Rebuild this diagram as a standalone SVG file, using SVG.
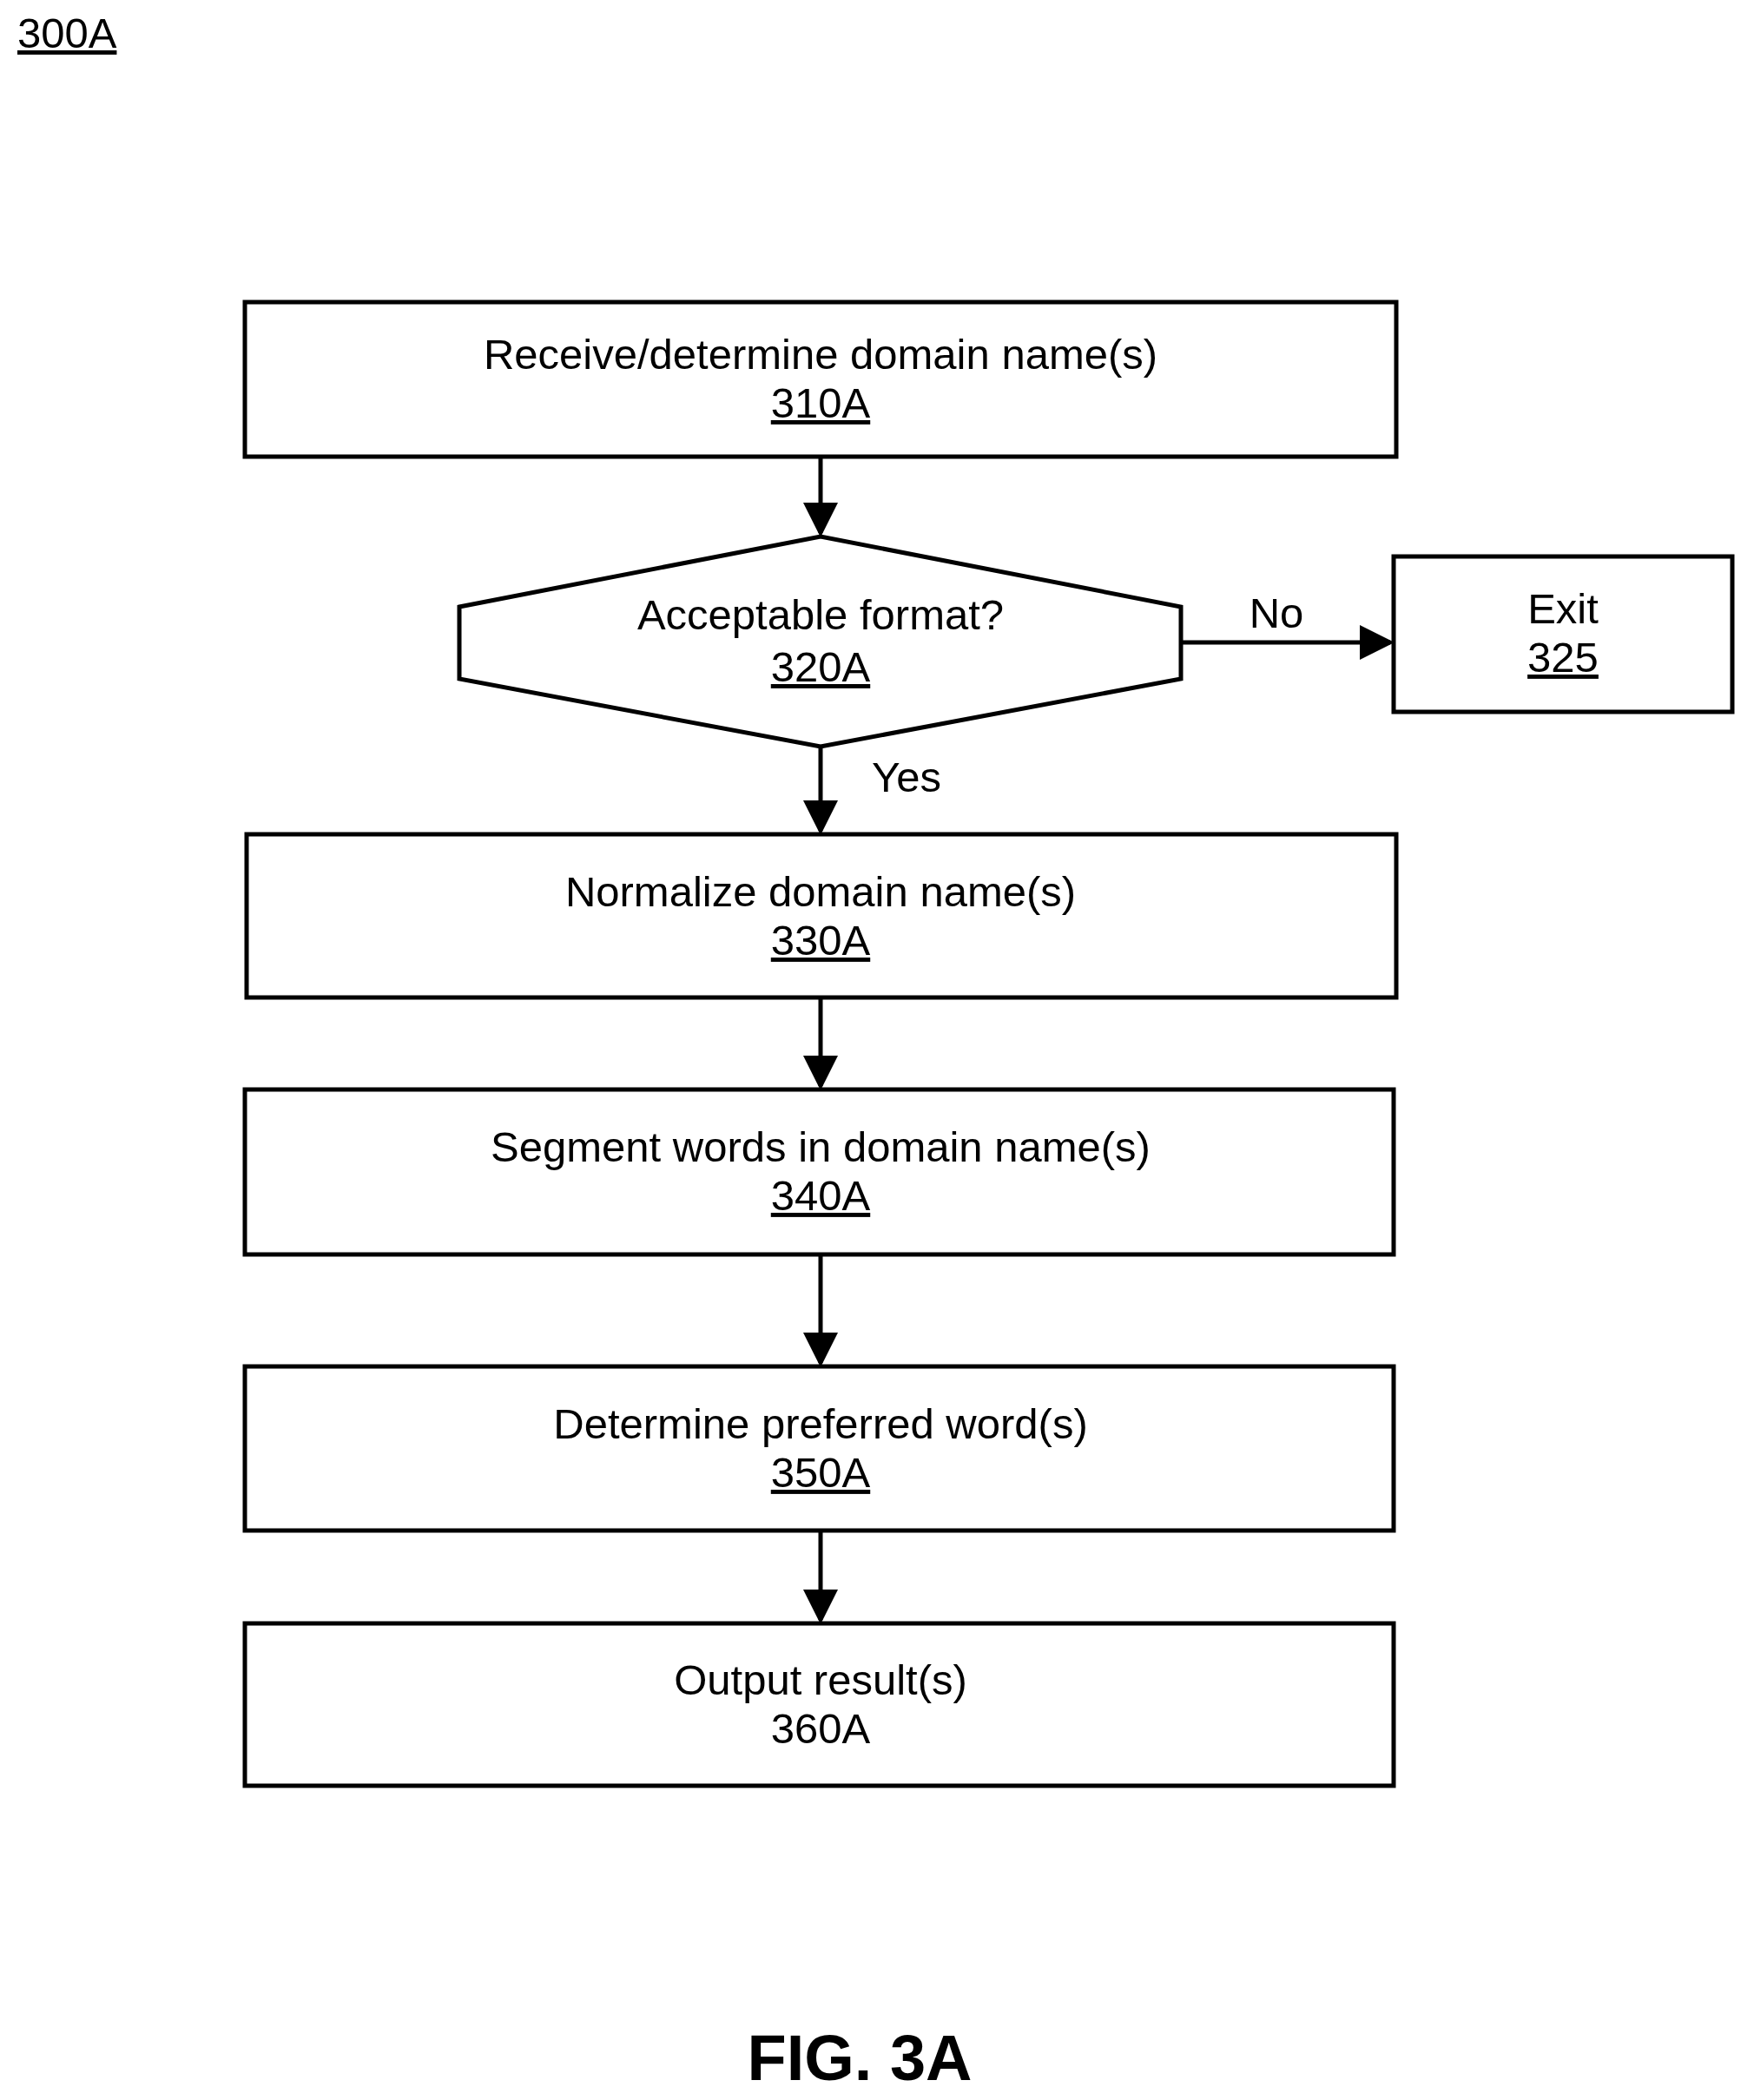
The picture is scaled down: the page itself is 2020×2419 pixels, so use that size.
<svg xmlns="http://www.w3.org/2000/svg" width="2020" height="2419" viewBox="0 0 2020 2419">
<style>
text{font-family:"Liberation Sans",Arial,sans-serif;font-size:49px;fill:#000;text-anchor:middle}
.u{text-decoration:underline}
.s{fill:#fff;stroke:#000;stroke-width:5}
.c{stroke:#000;stroke-width:5;fill:none;marker-end:url(#a)}
</style>
<defs><marker id="a" markerWidth="8" markerHeight="8" refX="7" refY="4" orient="auto" markerUnits="strokeWidth"><path d="M0,0 L8,4 L0,8 z" fill="#000"/></marker></defs>
<text x="20" y="55" class="u" style="text-anchor:start">300A</text>
<g id="n310"><rect class="s" x="282" y="348" width="1326" height="178"/><text x="945" y="425">Receive/determine domain name(s)</text><text x="945" y="481" class="u">310A</text></g>
<g id="n320"><polygon class="s" points="529,699 945,618 1360,699 1360,782 945,860 529,782"/><text x="945" y="725">Acceptable format?</text><text x="945" y="785" class="u">320A</text></g>
<g id="n325"><rect class="s" x="1605" y="641" width="390" height="179"/><text x="1800" y="718">Exit</text><text x="1800" y="774" class="u">325</text></g>
<g id="n330"><rect class="s" x="284" y="961" width="1324" height="188"/><text x="945" y="1044">Normalize domain name(s)</text><text x="945" y="1100" class="u">330A</text></g>
<g id="n340"><rect class="s" x="282" y="1255" width="1323" height="190"/><text x="945" y="1338">Segment words in domain name(s)</text><text x="945" y="1394" class="u">340A</text></g>
<g id="n350"><rect class="s" x="282" y="1574" width="1323" height="189"/><text x="945" y="1657">Determine preferred word(s)</text><text x="945" y="1713" class="u">350A</text></g>
<g id="n360"><rect class="s" x="282" y="1870" width="1323" height="187"/><text x="945" y="1952">Output result(s)</text><text x="945" y="2008">360A</text></g>
<g id="connectors">
<line class="c" x1="945" y1="526" x2="945" y2="614"/>
<line class="c" x1="1360" y1="740" x2="1601" y2="740"/>
<line class="c" x1="945" y1="860" x2="945" y2="957"/>
<line class="c" x1="945" y1="1149" x2="945" y2="1251"/>
<line class="c" x1="945" y1="1445" x2="945" y2="1570"/>
<line class="c" x1="945" y1="1763" x2="945" y2="1866"/>
</g>
<text x="1470" y="723">No</text>
<text x="1044" y="912">Yes</text>
<text x="990" y="2396" style="font-size:74px;font-weight:bold">FIG. 3A</text>
</svg>
